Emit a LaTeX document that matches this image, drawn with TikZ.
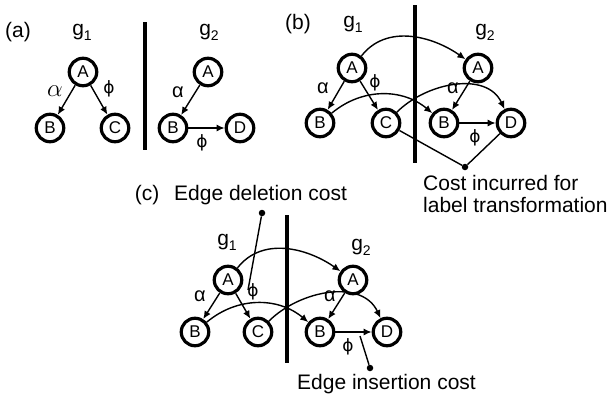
\documentclass[tikz,border=0pt]{standalone}
\usepackage{fontspec}
\setmainfont{Liberation Sans}
\newfontfamily\greekfont{DejaVu Sans}
\usetikzlibrary{arrows.meta,calc}

% graph name with a lowered index, e.g. g_1
\newcommand\gname[1]{g\raisebox{-5pt}{\fontsize{14}{14}\selectfont #1}}
\newcommand\phiglyph{{\greekfont\fontsize{17}{17}\selectfont ϕ}}

\tikzset{
  vtx/.style={circle,draw,line width=3.2pt,minimum size=27.5pt,inner sep=0pt,
    font=\fontsize{17}{17}\selectfont},
  edge/.style={line width=1.4pt,-{Latex[length=8pt,width=7pt]}},
  plain/.style={line width=1.4pt},
  divider/.style={line width=4.5pt},
  lbl/.style={font=\fontsize{21}{24}\selectfont,inner sep=0pt},
  glab/.style={font=\fontsize{21}{21}\selectfont,inner sep=0pt},
  elab/.style={font=\fontsize{20}{20}\selectfont,inner sep=0pt},
  dot/.style={circle,fill,inner sep=0pt,minimum size=6.5pt},
}

\begin{document}
\begin{tikzpicture}[x=1pt,y=-1pt]
\path[use as bounding box,fill=white] (0,0) rectangle (608,399);

% ---------- (a) the two graphs side by side ----------
\node[lbl] (la) at (18,32) {(a)};
\node[glab] (ga1) at (82,32) {\gname{1}};
\node[glab] (ga2) at (209,32) {\gname{2}};
\coordinate (da1) at (145,22);
\coordinate (da2) at (145,150);
\draw[divider] (da1) -- (da2);

\node[vtx] (aA)  at (83,72)   {A};
\node[vtx] (aB)  at (50,128)  {B};
\node[vtx] (aC)  at (115,128) {C};
\node[vtx] (aA2) at (208,72)  {A};
\node[vtx] (aB2) at (173,128) {B};
\node[vtx] (aD2) at (240,128) {D};

\draw[edge] (aA) -- (aB);
\draw[edge] (aA) -- (aC);
\draw[edge] (aA2) -- (aB2);
\draw[edge] (aB2) -- (aD2);

\node[elab] (aal1) at (55,91)  {\fontsize{24}{24}\selectfont$\alpha$};
\node[elab] (aph1) at (109,89) {\phiglyph};
\node[elab] (aal2) at (178,92) {α};
\node[elab] (aph2) at (202,143) {\phiglyph};

% ---------- (b) label transformation ----------
\node[lbl] (lb) at (298,24) {(b)};
\node[glab] (gb1) at (353,24) {\gname{1}};
\node[glab] (gb2) at (485,32) {\gname{2}};
\coordinate (db1) at (415,5);
\coordinate (db2) at (415,163);
\draw[divider] (db1) -- (db2);

\node[vtx] (bA)  at (352,68)  {A};
\node[vtx] (bB)  at (320,123) {B};
\node[vtx] (bC)  at (386,123) {C};
\node[vtx] (bA2) at (478,68)  {A};
\node[vtx] (bB2) at (444,123) {B};
\node[vtx] (bD2) at (511,123) {D};

\draw[edge] (bA) -- (bB);
\draw[edge] (bA) -- (bC);
\draw[edge] (bA2) -- (bB2);
\draw[edge] (bB2) -- (bD2);

\draw[edge] (bA) to[out=52,in=145] (bA2);
\draw[edge] (bB) to[out=40,in=140] (bB2);
\draw[edge] (bC) to[out=45,in=115] (bD2);

\node[elab] (bal1) at (323,88)  {α};
\node[elab] (bph1) at (375,83)  {\phiglyph};
\node[elab] (bal2) at (453,88)  {α};
\node[elab] (bph2) at (475,138) {\phiglyph};

\node[dot] (bdot) at (465,167) {};
\draw[plain] (bC) -- (bdot);
\draw[plain] (bD2) -- (bdot);
\node[lbl,anchor=west] (bcost1) at (423,183) {Cost incurred for};
\node[lbl,anchor=west] (bcost2) at (423,205) {label transformation};

% ---------- (c) edge deletion and insertion ----------
\node[lbl] (lc) at (147,195) {(c)};
\node[lbl,anchor=west] (cdeltxt) at (174,195) {Edge deletion cost};
\node[glab] (gc1) at (227,242) {\gname{1}};
\node[glab] (gc2) at (361,247) {\gname{2}};
\coordinate (dc1) at (287,215);
\coordinate (dc2) at (287,363);
\draw[divider] (dc1) -- (dc2);

\node[vtx] (cA)  at (228,280) {A};
\node[vtx] (cB)  at (195,332) {B};
\node[vtx] (cC)  at (258,332) {C};
\node[vtx] (cA2) at (353,280) {A};
\node[vtx] (cB2) at (320,332) {B};
\node[vtx] (cD2) at (387,332) {D};

\draw[edge] (cA) -- (cB);
\draw[edge] (cA) -- (cC);
\draw[edge] (cA2) -- (cB2);
\draw[edge] (cB2) -- (cD2);

\draw[edge] (cA) to[out=52,in=145] (cA2);
\draw[edge] (cB) to[out=40,in=140] (cB2);
\draw[edge] (cC) to[out=45,in=115] (cD2);

\node[elab] (cal1) at (200,296) {α};
\node[elab] (cph1) at (253,292) {\phiglyph};
\node[elab] (cal2) at (330,296) {α};
\node[elab] (cph2) at (348,347) {\phiglyph};

\node[dot] (cdeldot) at (262,213) {};
\coordinate (cdelend) at (248,290);
\draw[plain] (cdeldot) -- (cdelend);

\node[dot] (cinsdot) at (370,368) {};
\coordinate (cinsend) at (360,336);
\draw[plain] (cinsend) -- (cinsdot);
\node[lbl,anchor=west] (cinstxt) at (297,384) {Edge insertion cost};
\end{tikzpicture}
\end{document}
